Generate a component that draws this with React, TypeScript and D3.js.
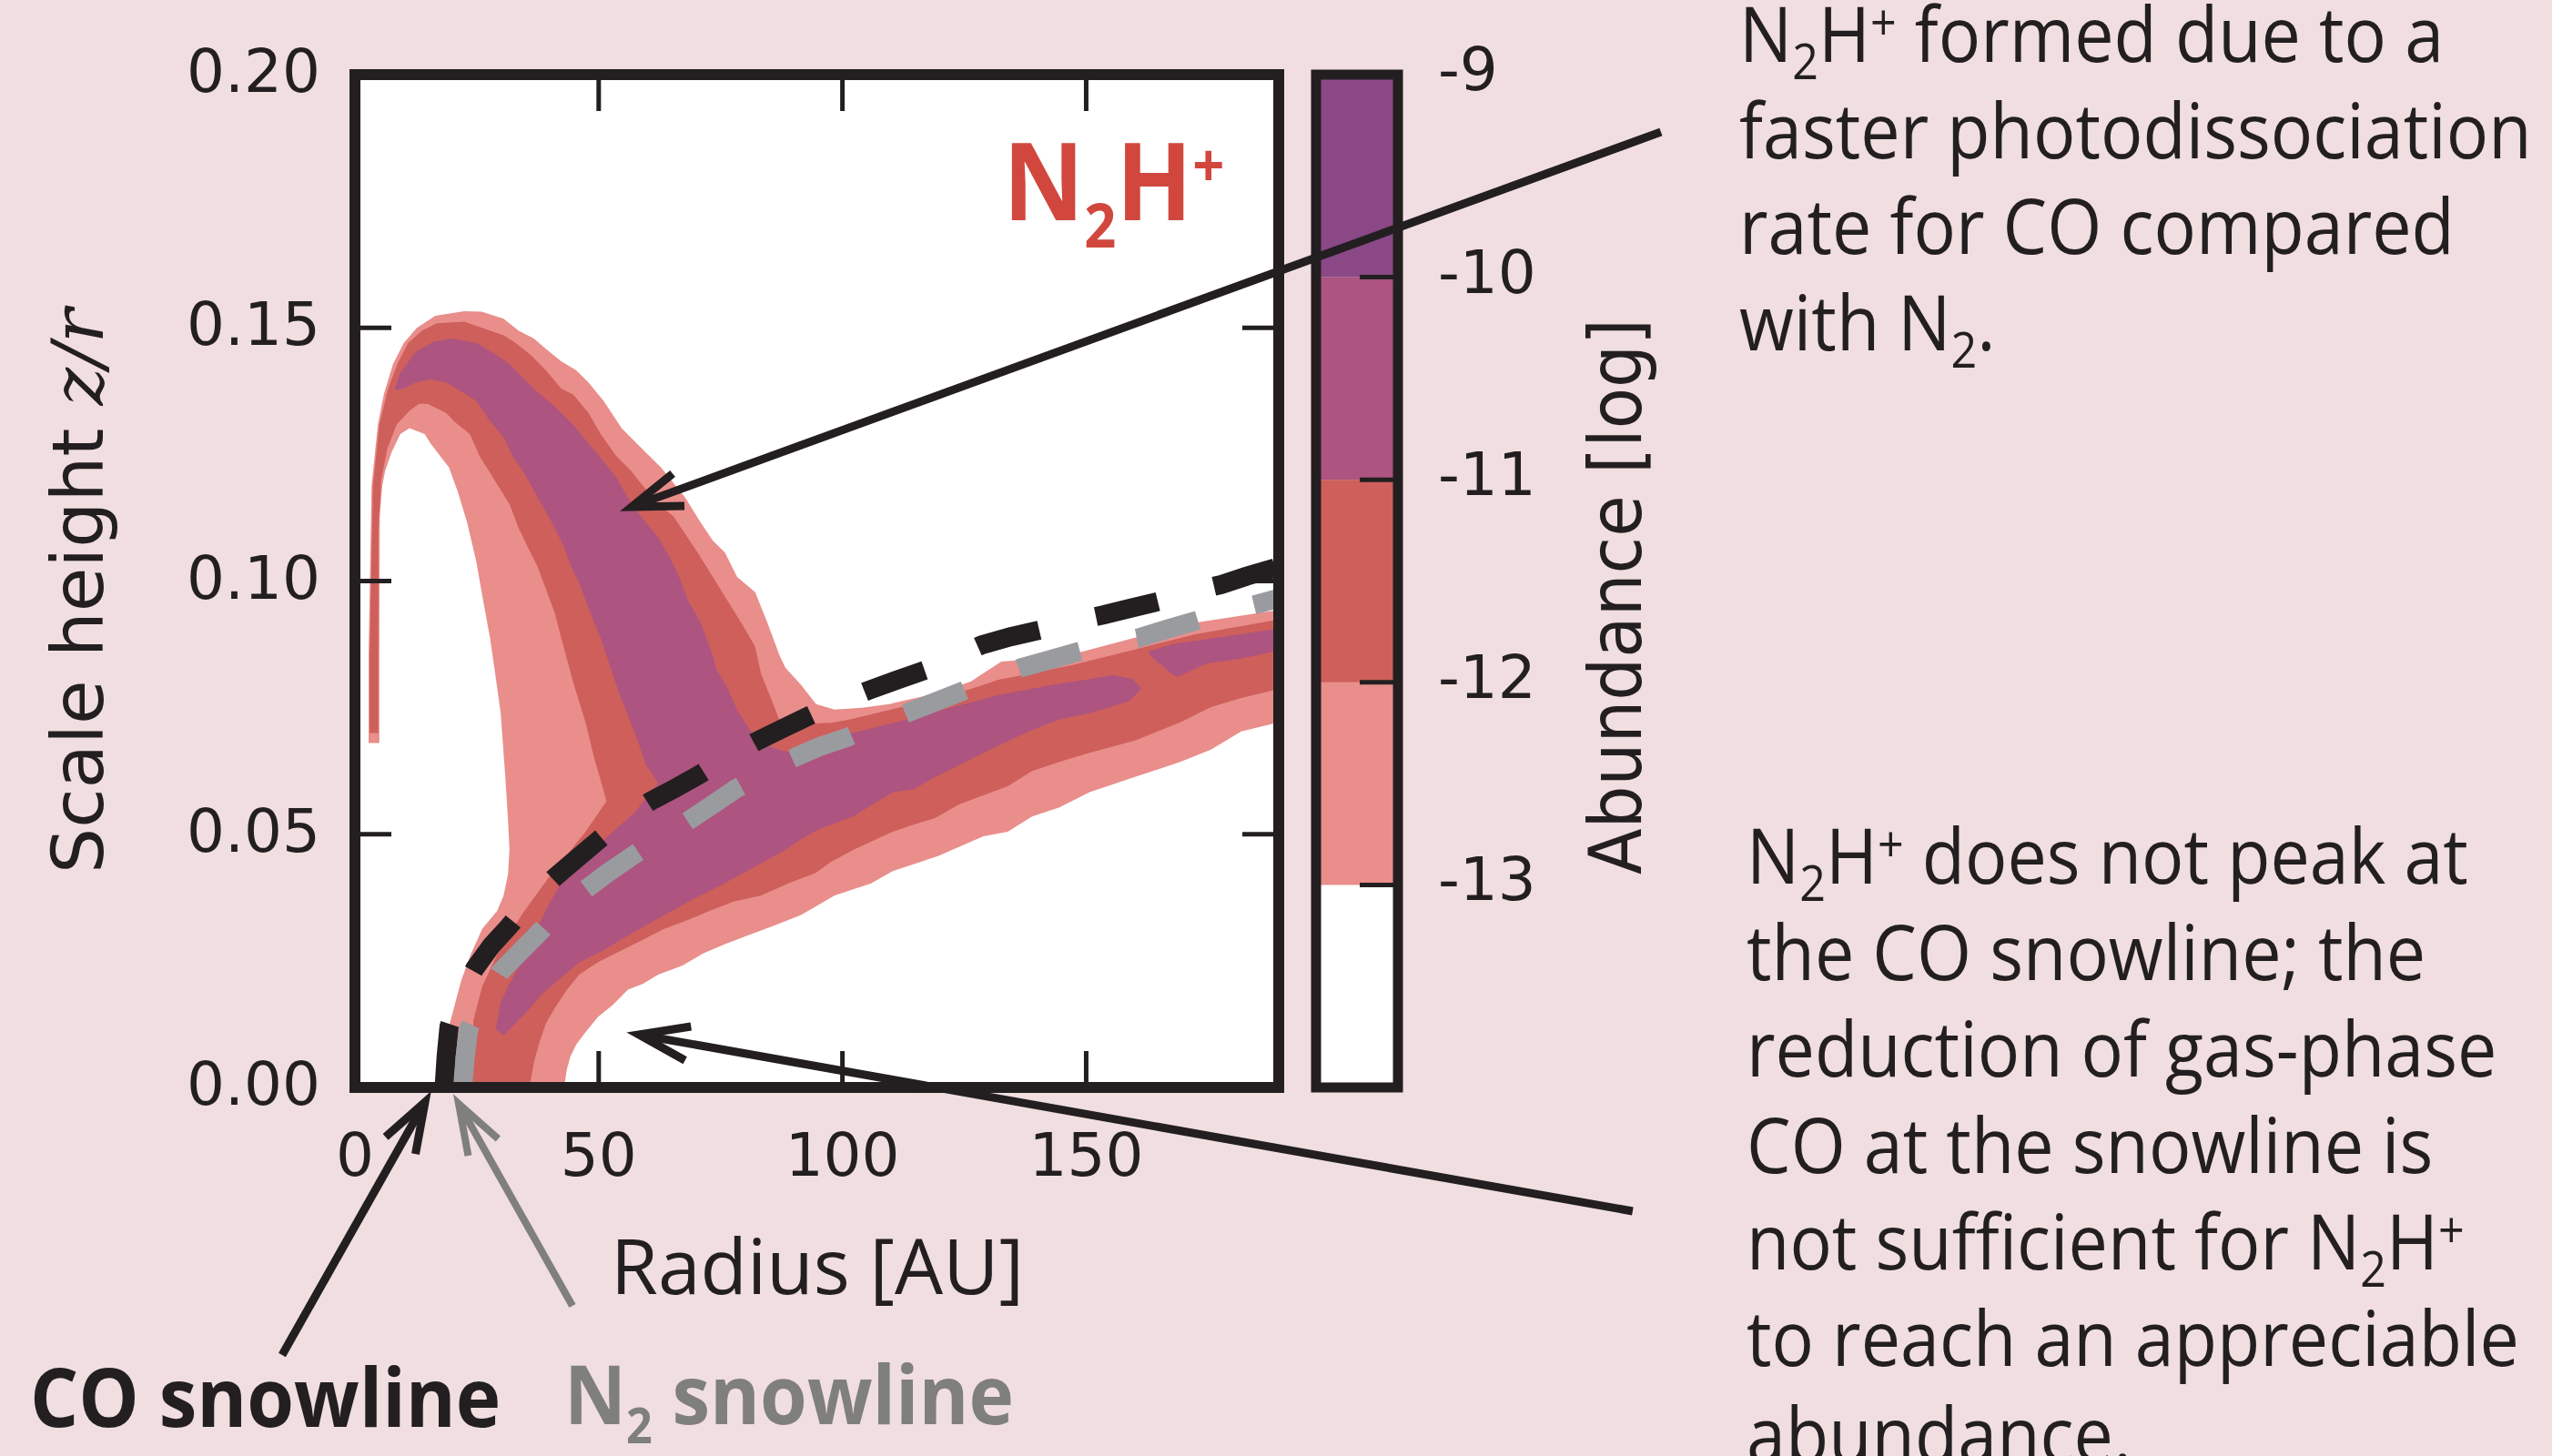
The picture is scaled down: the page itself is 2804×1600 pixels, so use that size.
import { useEffect } from "react";
import * as d3 from "d3";

type Pt = [number, number];

// ---- axes / colorbar ----
const xTickValues = [0, 50, 100, 150];
const yTickValues = [0, 0.05, 0.1, 0.15, 0.2];
const cbBounds = [-14, -13, -12, -11, -10, -9];
const cbTickValues = [-13, -12, -11, -10, -9];
const cbColors = ["#ffffff", "#e98e8b", "#ce5f5b", "#ad5480", "#8a4886"];

// ---- N2H+ abundance contours, [radius AU, z/r] ----
// log abundance >= -13
const abund13: Pt[] = [
  [2.8, 0.068], [2.8, 0.0853], [3.4, 0.1188], [4.7, 0.1308], [5.9, 0.1368], [7.8, 0.1428],
  [10.0, 0.147], [12.7, 0.15], [16.5, 0.1524], [22.4, 0.1533], [26.0, 0.1532], [30.5, 0.1518],
  [33.6, 0.1494], [36.7, 0.1479], [39.2, 0.1458], [42.3, 0.1434], [45.4, 0.1416], [47.9, 0.1392],
  [51.0, 0.1356], [54.7, 0.1302], [57.8, 0.1272], [60.3, 0.1248], [62.8, 0.1224], [65.3, 0.1194],
  [67.8, 0.1164], [70.9, 0.1116], [73.4, 0.108], [75.9, 0.1056], [78.4, 0.1008], [82.1, 0.0978],
  [84.6, 0.0918], [87.1, 0.0853], [88.3, 0.0829], [91.5, 0.0795], [94.6, 0.0757], [98.4, 0.0746],
  [104.0, 0.075], [109.6, 0.0757], [112.1, 0.0763], [119.0, 0.0777], [126.4, 0.0802], [128.0, 0.0812],
  [132.6, 0.0841], [138.0, 0.0845], [142.0, 0.0847], [148.2, 0.0858], [160.0, 0.0888], [172.4, 0.0918],
  [189.5, 0.0943], [189.5, 0.0721], [181.8, 0.0703], [175.6, 0.0667], [169.3, 0.0643], [160.0, 0.0613],
  [150.7, 0.0583], [144.5, 0.0553], [138.9, 0.0535], [133.9, 0.0505], [128.9, 0.0496], [119.6, 0.0457],
  [110.3, 0.0427], [105.9, 0.0403], [98.4, 0.0379], [94.1, 0.0355], [91.4, 0.034], [85.8, 0.0319],
  [80.8, 0.0301], [75.9, 0.0283], [71.5, 0.0265], [67.2, 0.0241], [62.2, 0.0223], [59.1, 0.0205],
  [56.0, 0.0193], [52.9, 0.0163], [49.8, 0.0139], [47.3, 0.0109], [45.4, 0.0085], [44.2, 0.0061],
  [43.5, 0.0037], [42.9, 0.0], [17.8, 0.0], [18.8, 0.006], [19.3, 0.0121], [21.8, 0.0211],
  [23.6, 0.0259], [26.1, 0.0313], [29.2, 0.0349], [30.5, 0.0379], [31.4, 0.0421], [31.7, 0.0469],
  [31.4, 0.0529], [30.8, 0.0619], [29.9, 0.0739], [28.6, 0.0829], [27.7, 0.0888], [26.1, 0.0972],
  [24.9, 0.1038], [23.0, 0.1116], [21.1, 0.1176], [19.3, 0.1224], [17.4, 0.1248], [15.5, 0.1272],
  [14.3, 0.129], [11.2, 0.1302], [9.3, 0.129], [7.5, 0.1254], [6.2, 0.1218], [5.6, 0.1188],
  [5.1, 0.1128], [5.0, 0.0853], [5.0, 0.068],
];

// log abundance >= -12
const abund12: Pt[] = [
  [3.0, 0.07], [3.0, 0.0853], [3.7, 0.1188], [5.0, 0.1308], [6.8, 0.138], [8.7, 0.1428],
  [10.9, 0.147], [13.7, 0.1494], [16.8, 0.1509], [22.4, 0.1512], [26.1, 0.15], [30.5, 0.1485],
  [33.0, 0.147], [36.1, 0.1446], [39.2, 0.1416], [42.3, 0.138], [44.8, 0.1368], [47.9, 0.1332],
  [50.4, 0.129], [53.5, 0.1248], [56.6, 0.1218], [59.1, 0.1188], [62.2, 0.1152], [65.3, 0.1128],
  [67.8, 0.1092], [70.3, 0.1056], [73.4, 0.1008], [76.5, 0.096], [79.6, 0.0912], [82.1, 0.087],
  [83.3, 0.0817], [85.8, 0.0757], [87.0, 0.0727], [89.6, 0.0703], [91.6, 0.0718], [97.8, 0.072],
  [101.6, 0.0727], [112.1, 0.0751], [120.2, 0.0769], [126.4, 0.0787], [132.0, 0.0805], [140.0, 0.082],
  [147.6, 0.0835], [160.0, 0.0865], [172.4, 0.0895], [189.5, 0.0924], [189.5, 0.0787], [181.8, 0.0769],
  [175.6, 0.0751], [169.3, 0.0721], [160.0, 0.0685], [150.7, 0.0661], [144.5, 0.0643], [138.9, 0.0625],
  [133.9, 0.0595], [128.9, 0.0577], [123.9, 0.0559], [119.0, 0.0532], [114.0, 0.0517], [110.3, 0.0505],
  [102.2, 0.0469], [97.6, 0.0445], [94.6, 0.0424], [88.9, 0.0403], [83.3, 0.0379], [77.7, 0.0367],
  [72.8, 0.0349], [68.4, 0.0331], [63.4, 0.0313], [58.5, 0.0289], [53.5, 0.0265], [49.8, 0.0247],
  [46.0, 0.0223], [43.5, 0.0193], [41.0, 0.0157], [39.2, 0.0127], [37.9, 0.0091], [36.7, 0.0049],
  [35.8, 0.0], [23.9, 0.0], [24.3, 0.0133], [26.1, 0.0199], [29.9, 0.0277], [34.8, 0.0349],
  [39.8, 0.0415], [47.3, 0.0505], [51.6, 0.0565], [50.4, 0.0607], [49.1, 0.0649], [47.3, 0.0721],
  [44.8, 0.0799], [42.3, 0.0888], [41.0, 0.0936], [39.2, 0.0984], [37.3, 0.1032], [35.4, 0.1068],
  [33.6, 0.1104], [31.7, 0.1152], [28.6, 0.12], [25.5, 0.1248], [23.6, 0.129], [20.5, 0.1314],
  [18.7, 0.1332], [14.9, 0.135], [13.1, 0.135], [11.2, 0.1336], [8.6, 0.131], [6.6, 0.126],
  [5.4, 0.12], [4.8, 0.11], [4.8, 0.07],
];

// log abundance >= -11 (main body)
const abund11: Pt[] = [
  [8.1, 0.1377], [9.3, 0.141], [12.4, 0.1452], [16.2, 0.1473], [19.9, 0.1479], [24.9, 0.147],
  [28.6, 0.1449], [31.7, 0.1428], [34.8, 0.1398], [37.3, 0.1374], [41.0, 0.1344], [44.8, 0.1308],
  [47.9, 0.1272], [51.0, 0.1236], [53.5, 0.1206], [56.0, 0.1164], [59.1, 0.1122], [62.2, 0.1086],
  [64.7, 0.1044], [66.5, 0.1008], [68.4, 0.096], [70.9, 0.0918], [73.4, 0.0853], [74.0, 0.0829],
  [76.5, 0.0787], [78.4, 0.0745], [80.8, 0.0709], [83.3, 0.0679], [88.3, 0.0663], [92.0, 0.0668],
  [97.4, 0.068], [100.9, 0.0697], [113.4, 0.0727], [122.7, 0.0751], [132.0, 0.0775], [143.8, 0.0796],
  [155.7, 0.0814], [159.5, 0.0807], [161.3, 0.0787], [158.8, 0.0763], [150.7, 0.0739], [144.5, 0.0727],
  [138.2, 0.0703], [128.9, 0.0661], [119.0, 0.0613], [114.6, 0.0589], [110.3, 0.0583], [102.2, 0.0535],
  [95.3, 0.0511], [91.6, 0.0491], [88.3, 0.0469], [81.5, 0.0433], [74.6, 0.0397], [68.4, 0.0367],
  [62.8, 0.0337], [57.2, 0.0307], [51.0, 0.0271], [46.0, 0.0247], [42.3, 0.0217], [38.6, 0.0187],
  [35.4, 0.0151], [32.3, 0.0121], [30.5, 0.0103], [28.9, 0.0115], [29.9, 0.0169], [31.7, 0.0205],
  [34.8, 0.0259], [37.3, 0.0313], [39.8, 0.0361], [42.9, 0.0415], [47.3, 0.0457], [52.9, 0.0505],
  [57.2, 0.0541], [62.2, 0.0601], [59.7, 0.0637], [57.8, 0.0691], [54.1, 0.0781], [50.4, 0.0888],
  [49.8, 0.0901], [47.9, 0.0948], [46.0, 0.0996], [44.2, 0.1032], [42.9, 0.1068], [40.4, 0.1116],
  [37.9, 0.1158], [34.8, 0.1212], [32.3, 0.1248], [30.5, 0.1284], [27.4, 0.132], [24.9, 0.1356],
  [21.8, 0.1374], [18.7, 0.1392], [15.5, 0.1398], [12.4, 0.1392], [10.0, 0.138],
];

// log abundance >= -11 (outer patch)
const abund11Outer: Pt[] = [
  [162.8, 0.0861], [168.1, 0.0876], [178.7, 0.0891], [189.5, 0.0906], [189.5, 0.0863],
  [181.8, 0.0847], [174.9, 0.0838], [168.7, 0.0811], [167.8, 0.0815], [163.1, 0.0853],
];

// ---- snowlines ----
const coSnowline: Pt[] = [
  [18.3, 0], [18.7, 0.006], [19.3, 0.012], [21.5, 0.0182], [24.6, 0.0235], [28.0, 0.028],
  [31.7, 0.0319], [36.0, 0.037], [41.0, 0.0415], [45.5, 0.0452], [49.8, 0.0487], [55.0, 0.053],
  [60.6, 0.0565], [65.5, 0.059], [70.9, 0.0619], [76.0, 0.065], [82.7, 0.0685], [88.0, 0.071],
  [93.0, 0.0733], [99.0, 0.076], [105.3, 0.0784], [111.0, 0.0804], [117.0, 0.0824], [123.0, 0.085],
  [128.6, 0.0874], [134.5, 0.089], [140.4, 0.0903], [147.0, 0.092], [153.5, 0.0933], [159.0, 0.0946],
  [165.0, 0.096], [171.0, 0.0978], [177.7, 0.0993], [183.0, 0.101], [189.5, 0.1028],
];
const n2Snowline: Pt[] = [
  [22.1, 0], [22.6, 0.006], [23.3, 0.0115], [26.0, 0.017], [29.9, 0.0229], [33.9, 0.0268],
  [37.9, 0.0307], [42.0, 0.035], [47.3, 0.0391], [52.0, 0.0425], [56.9, 0.0457], [62.0, 0.049],
  [67.8, 0.0523], [73.0, 0.0556], [78.0, 0.0589], [84.0, 0.062], [89.6, 0.0649], [95.0, 0.0672],
  [100.9, 0.0691], [107.0, 0.0715], [113.1, 0.0739], [118.7, 0.076], [124.3, 0.0781], [130.0, 0.0805],
  [136.7, 0.0829], [142.3, 0.0844], [147.9, 0.0859], [154.0, 0.0875], [160.9, 0.0888], [166.6, 0.0905],
  [172.4, 0.0921], [178.0, 0.0938], [184.9, 0.0954], [189.5, 0.0966],
];

// ---- annotation text ----
const noteTop = ["N_2H^+ formed due to a", "faster photodissociation", "rate for CO compared", "with N_2."];
const noteBottom = [
  "N_2H^+ does not peak at",
  "the CO snowline; the",
  "reduction of gas-phase",
  "CO at the snowline is",
  "not sufficient for N_2H^+",
  "to reach an appreciable",
  "abundance.",
];

const INK = "#231f20";
const GREY_TXT = "#7f7f7d";

// arrows: tip and tail in [radius AU, z/r]
const arrows = [
  { tip: [56.76, 0.11465], tail: [267.9, 0.18868], color: INK, w: 9 },
  { tip: [58.25, 0.01042], tail: [262.1, -0.02444], color: INK, w: 9 },
  { tip: [14.38, -0.00288], tail: [-14.94, -0.05283], color: INK, w: 9 },
  { tip: [21.28, -0.00323], tail: [44.62, -0.04313], color: GREY_TXT, w: 8 },
];

const SANS = "'Open Sans', 'Noto Sans', sans-serif";
const DJV = "'DejaVu Sans', sans-serif";

function rich(text: string, size: number, sub = 0.226, sup = -0.286, small = 0.65) {
  const parts = text.split(/(_\d|\^\+)/).filter((p) => p !== "");
  let shift = 0;
  return parts.map((p, i) => {
    if (p.startsWith("_")) {
      const dy = size * sub - shift;
      shift = size * sub;
      return <tspan key={i} fontSize={size * small} dy={dy}>{p.slice(1)}</tspan>;
    }
    if (p.startsWith("^")) {
      const dy = size * sup - shift;
      shift = size * sup;
      return <tspan key={i} fontSize={size * small} dy={dy}>{p.slice(1)}</tspan>;
    }
    const dy = -shift;
    shift = 0;
    return <tspan key={i} fontSize={size} dy={dy}>{p}</tspan>;
  });
}

export default function App() {
  useEffect(() => {
    document.body.style.margin = "0";
  }, []);

  const W = 2804, H = 1600;
  const plot = { left: 390, right: 1405, top: 82, bottom: 1195 };
  const cbBox = { left: 1446, right: 1536 };

  const x = d3.scaleLinear().domain([0, 189.5]).range([plot.left, plot.right]);
  const y = d3.scaleLinear().domain([0, 0.2]).range([plot.bottom, plot.top]);
  const cb = d3.scaleLinear().domain([-14, -9]).range([plot.bottom, plot.top]);

  const line = d3.line<Pt>().x((d) => x(d[0])).y((d) => y(d[1]));
  const area = (pts: Pt[]) => line(pts) + "Z";

  const contourLayers = [
    { pts: abund13, fill: cbColors[1] },
    { pts: abund12, fill: cbColors[2] },
    { pts: abund11, fill: cbColors[3] },
    { pts: abund11Outer, fill: cbColors[3] },
  ];

  const arrowShapes = arrows.map((a) => {
    const tip = [x(a.tip[0]), y(a.tip[1])];
    const tail = [x(a.tail[0]), y(a.tail[1])];
    const dx = tail[0] - tip[0], dy = tail[1] - tip[1];
    const L = Math.hypot(dx, dy);
    const ux = dx / L, uy = dy / L;
    const len = 58, ang = (19 * Math.PI) / 180;
    const rot = (t: number) => [ux * Math.cos(t) - uy * Math.sin(t), ux * Math.sin(t) + uy * Math.cos(t)];
    const [ax, ay] = rot(ang);
    const [bx, by] = rot(-ang);
    return {
      shaft: `M${tail[0]},${tail[1]}L${tip[0] + ux * 4},${tip[1] + uy * 4}`,
      head: `M${tip[0] + ax * len},${tip[1] + ay * len}L${tip[0]},${tip[1]}L${tip[0] + bx * len},${tip[1] + by * len}`,
      color: a.color,
      w: a.w,
    };
  });

  return (
    <svg
      width={W}
      height={H}
      viewBox={`0 0 ${W} ${H}`}
      style={{ display: "block", position: "absolute", left: 0, top: 0 }}
    >
      <rect x={0} y={0} width={W} height={H} fill="#f0dee0" />

      {/* plot area */}
      <rect x={plot.left} y={plot.top} width={plot.right - plot.left} height={plot.bottom - plot.top} fill="#ffffff" />
      <clipPath id="plotClip">
        <rect x={plot.left} y={plot.top} width={plot.right - plot.left} height={plot.bottom - plot.top} />
      </clipPath>
      <g clipPath="url(#plotClip)">
        {contourLayers.map((c, i) => (
          <path key={i} d={area(c.pts)} fill={c.fill} />
        ))}
        <path d={line(coSnowline) ?? ""} fill="none" stroke={INK} strokeWidth={21} strokeDasharray="70 64" />
        <path d={line(n2Snowline) ?? ""} fill="none" stroke="#9a9b9f" strokeWidth={21} strokeDasharray="70 64" />
      </g>

      {/* ticks */}
      {xTickValues.filter((v) => v > 0).map((v) => (
        <g key={`xt${v}`} stroke={INK} strokeWidth={5}>
          <line x1={x(v)} x2={x(v)} y1={plot.bottom} y2={plot.bottom - 40} />
          <line x1={x(v)} x2={x(v)} y1={plot.top} y2={plot.top + 40} />
        </g>
      ))}
      {yTickValues.filter((v) => v > 0 && v < 0.2).map((v) => (
        <g key={`yt${v}`} stroke={INK} strokeWidth={5}>
          <line x1={plot.left} x2={plot.left + 40} y1={y(v)} y2={y(v)} />
          <line x1={plot.right} x2={plot.right - 40} y1={y(v)} y2={y(v)} />
        </g>
      ))}
      <rect
        x={plot.left}
        y={plot.top}
        width={plot.right - plot.left}
        height={plot.bottom - plot.top}
        fill="none"
        stroke={INK}
        strokeWidth={12}
      />

      {/* tick labels */}
      {xTickValues.map((v) => (
        <text key={`xl${v}`} x={x(v)} y={1292} textAnchor="middle" fontFamily={DJV} fontSize={66} fill={INK}>
          {String(v)}
        </text>
      ))}
      {yTickValues.map((v) => (
        <text key={`yl${v}`} x={352} y={y(v) + 19} textAnchor="end" fontFamily={DJV} fontSize={66} fill={INK}>
          {d3.format(".2f")(v)}
        </text>
      ))}

      {/* axis titles */}
      <text x={898} y={1422} textAnchor="middle" fontFamily={SANS} fontWeight={500} fontSize={84} fill={INK}>
        Radius [AU]
      </text>
      <text transform="translate(113,960) rotate(-90)" fontFamily={DJV} fontSize={79} fill={INK} style={{ whiteSpace: "pre" }}>
        <tspan>Scale height </tspan>
        <tspan fontFamily="'DejaVu Serif', serif" fontStyle="italic">z/r</tspan>
      </text>

      {/* colorbar */}
      {cbColors.map((c, i) => (
        <rect
          key={`cb${i}`}
          x={cbBox.left}
          y={cb(cbBounds[i + 1])}
          width={cbBox.right - cbBox.left}
          height={cb(cbBounds[i]) - cb(cbBounds[i + 1])}
          fill={c}
        />
      ))}
      {cbTickValues.filter((v) => v < -9).map((v) => (
        <line key={`cbt${v}`} x1={cbBox.right} x2={cbBox.right - 42} y1={cb(v)} y2={cb(v)} stroke={INK} strokeWidth={5} />
      ))}
      <rect
        x={cbBox.left}
        y={plot.top}
        width={cbBox.right - cbBox.left}
        height={plot.bottom - plot.top}
        fill="none"
        stroke={INK}
        strokeWidth={11}
      />
      {cbTickValues.map((v) => (
        <text key={`cbl${v}`} x={1580} y={cb(v) + 17} fontFamily={DJV} fontSize={66} fill={INK}>
          {String(v)}
        </text>
      ))}
      <text transform="translate(1803,961) rotate(-90) scale(0.925,1)" fontFamily={DJV} fontSize={80} fill={INK}>
        Abundance [log]
      </text>

      {/* species label */}
      <g transform="translate(1102,0) scale(0.93,1)">
        <text x={0} y={242} fontFamily={SANS} fontWeight={700} fill="#d1473e" style={{ whiteSpace: "pre" }}>
          {rich("N_2H^+", 118, 0.254, -0.31, 0.56)}
        </text>
      </g>

      {/* snowline labels */}
      <g transform="translate(33,0) scale(0.93,1)">
        <text x={0} y={1568} fontFamily={SANS} fontWeight={700} fontSize={90} fill={INK}>
          CO snowline
        </text>
      </g>
      <g transform="translate(620,0) scale(0.93,1)">
        <text x={0} y={1565} fontFamily={SANS} fontWeight={700} fill={GREY_TXT} style={{ whiteSpace: "pre" }}>
          {rich("N_2 snowline", 90, 0.233, -0.3, 0.6)}
        </text>
      </g>

      {/* annotations */}
      <g transform="translate(1911,0) scale(0.92,1)">
        {noteTop.map((t, i) => (
          <text key={`nt${i}`} x={0} y={68 + i * 105.7} fontFamily={SANS} fontWeight={500} fill={INK} style={{ whiteSpace: "pre" }}>
            {rich(t, 84)}
          </text>
        ))}
      </g>
      <g transform="translate(1919,0) scale(0.92,1)">
        {noteBottom.map((t, i) => (
          <text key={`nb${i}`} x={0} y={971 + i * 106} fontFamily={SANS} fontWeight={500} fill={INK} style={{ whiteSpace: "pre" }}>
            {rich(t, 84)}
          </text>
        ))}
      </g>

      {/* arrows */}
      {arrowShapes.map((a, i) => (
        <g key={`ar${i}`} fill="none" stroke={a.color} strokeWidth={a.w}>
          <path d={a.shaft} />
          <path d={a.head} strokeLinejoin="miter" strokeMiterlimit={10} />
        </g>
      ))}
    </svg>
  );
}
